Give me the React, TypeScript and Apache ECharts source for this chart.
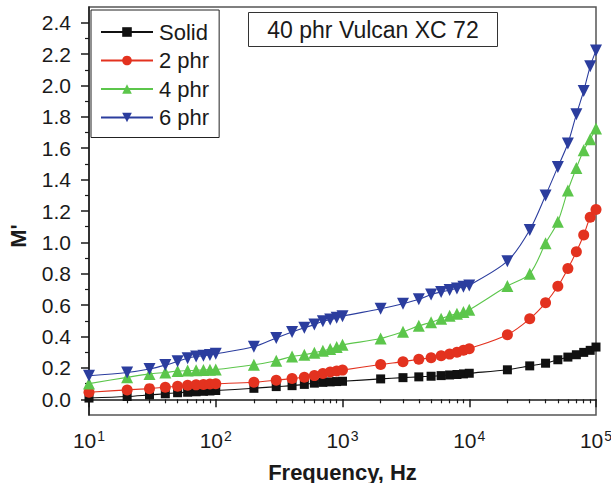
import React, { useEffect, useRef } from "react";
import * as echarts from "echarts";

const freqs = [
  10, 20, 30, 40, 50, 60, 70, 80, 90, 100,
  200, 300, 400, 500, 600, 700, 800, 900, 1000,
  2000, 3000, 4000, 5000, 6000, 7000, 8000, 9000, 10000,
  20000, 30000, 40000, 50000, 60000, 70000, 80000, 90000, 100000,
];

const solid = [
  0.008, 0.018, 0.028, 0.035, 0.042, 0.045, 0.048, 0.051, 0.053, 0.056,
  0.070, 0.081, 0.087, 0.095, 0.103, 0.108, 0.111, 0.113, 0.115,
  0.130, 0.138, 0.143, 0.147, 0.151, 0.155, 0.158, 0.162, 0.166,
  0.188, 0.213, 0.230, 0.252, 0.269, 0.284, 0.299, 0.312, 0.333,
];

const phr2 = [
  0.045, 0.060, 0.068, 0.077, 0.083, 0.089, 0.092, 0.095, 0.097, 0.099,
  0.109, 0.122, 0.132, 0.141, 0.151, 0.164, 0.174, 0.181, 0.186,
  0.222, 0.240, 0.255, 0.265, 0.277, 0.288, 0.300, 0.312, 0.322,
  0.412, 0.513, 0.615, 0.720, 0.833, 0.940, 1.047, 1.160, 1.209,
];

const phr4 = [
  0.100, 0.140, 0.162, 0.171, 0.180, 0.183, 0.185, 0.187, 0.189, 0.190,
  0.220, 0.246, 0.273, 0.284, 0.297, 0.309, 0.320, 0.333, 0.347,
  0.387, 0.430, 0.468, 0.491, 0.514, 0.533, 0.546, 0.557, 0.570,
  0.722, 0.800, 0.994, 1.132, 1.331, 1.474, 1.587, 1.658, 1.726,
];

const phr6 = [
  0.150, 0.171, 0.193, 0.218, 0.242, 0.262, 0.273, 0.278, 0.283, 0.290,
  0.335, 0.391, 0.429, 0.456, 0.476, 0.497, 0.508, 0.519, 0.530,
  0.577, 0.609, 0.637, 0.668, 0.684, 0.697, 0.706, 0.717, 0.726,
  0.880, 1.079, 1.299, 1.481, 1.630, 1.816, 1.965, 2.122, 2.222,
];

const seriesNames = ["Solid", "2 phr", "4 phr", "6 phr"];
const yTickValues = [0, 0.2, 0.4, 0.6, 0.8, 1.0, 1.2, 1.4, 1.6, 1.8, 2.0, 2.2, 2.4];
const yMinorTickValues = [0.1, 0.3, 0.5, 0.7, 0.9, 1.1, 1.3, 1.5, 1.7, 1.9, 2.1, 2.3];
const xDecadeExponents = [1, 2, 3, 4];
const xMinorFactors = [2, 3, 4, 5, 6, 7, 8, 9];
const boxLabel = "40 phr Vulcan XC 72";

const FONT = '"Liberation Sans", Arial, Helvetica, sans-serif';
const AXIS_COLOR = "#1a1a1a";

export default function App() {
  const ref = useRef<HTMLDivElement>(null);

  useEffect(() => {
    if (!ref.current) return;
    const chart = echarts.init(ref.current, null, { renderer: "svg" });

    const minorX: number[] = [];
    xDecadeExponents.forEach((e) => {
      xMinorFactors.forEach((f) => minorX.push(e + Math.log10(f)));
    });

    const pair = (ys: number[]) => freqs.map((f, i) => [f, ys[i]]);

    const mk = (
      name: string,
      ys: number[],
      color: string,
      symbol: string,
      size: number,
      rotate = 0
    ) => ({
      name,
      type: "line",
      data: pair(ys),
      xAxisIndex: 0,
      yAxisIndex: 0,
      smooth: 0.3,
      symbol,
      symbolSize: size,
      symbolRotate: rotate,
      showSymbol: true,
      lineStyle: { color, width: 1.1 },
      itemStyle: { color },
      emphasis: { disabled: true },
      z: 3,
    });

    const option: any = {
      animation: false,
      backgroundColor: "#ffffff",
      grid: {
        left: 89,
        right: 15,
        top: 7,
        bottom: 68,
        containLabel: false,
        outerBoundsMode: "none",
        show: true,
        borderColor: "#555555",
        borderWidth: 1.5,
        backgroundColor: "transparent",
      },
      legend: {
        show: true,
        orient: "vertical",
        left: 91,
        top: 10,
        padding: [11, 10, 9, 9],
        itemWidth: 52,
        itemHeight: 12,
        itemGap: 6.5,
        borderColor: "#222222",
        borderWidth: 1,
        backgroundColor: "#ffffff",
        data: seriesNames,
        textStyle: {
          fontFamily: FONT,
          fontSize: 22,
          lineHeight: 22,
          color: "#1a1a1a",
          padding: [0, 0, 0, 1],
        },
        selectedMode: false,
      },
      xAxis: [
        {
          type: "log",
          logBase: 10,
          min: 10,
          max: 100000,
          position: "bottom",
          axisLine: { show: true, lineStyle: { color: AXIS_COLOR, width: 1.5 } },
          axisTick: { show: true, inside: false, length: 8, lineStyle: { color: AXIS_COLOR, width: 1.5 } },
          splitLine: { show: false },
          minorTick: { show: false },
          axisLabel: {
            margin: 14,
            formatter: (v: number) => "{b|10}{s|" + Math.round(Math.log10(v)) + "}",
            rich: {
              b: { fontFamily: FONT, fontSize: 21, lineHeight: 22, color: AXIS_COLOR, verticalAlign: "bottom" },
              s: { fontFamily: FONT, fontSize: 14, lineHeight: 14, color: AXIS_COLOR, verticalAlign: "top", padding: [0, 0, 0, 1] },
            },
          },
          name: "Frequency, Hz",
          nameLocation: "middle",
          nameGap: 46,
          nameTextStyle: { fontFamily: FONT, fontSize: 22, fontWeight: "bold", color: AXIS_COLOR },
        },
        {
          type: "value",
          min: 1,
          max: 5,
          position: "bottom",
          axisLine: { show: false },
          axisTick: { show: true, inside: false, length: 4, customValues: minorX, lineStyle: { color: AXIS_COLOR, width: 1.2 } },
          axisLabel: { show: false },
          splitLine: { show: false },
        },
      ],
      yAxis: [
        {
          type: "value",
          min: -0.1,
          max: 2.5,
          position: "left",
          axisLine: { show: true, lineStyle: { color: AXIS_COLOR, width: 1.5 } },
          axisTick: { show: true, inside: false, length: 8, customValues: yTickValues, lineStyle: { color: AXIS_COLOR, width: 1.5 } },
          splitLine: { show: false },
          axisLabel: {
            customValues: yTickValues,
            margin: 18,
            formatter: (v: number) => v.toFixed(1),
            fontFamily: FONT,
            fontSize: 21,
            color: AXIS_COLOR,
          },
        },
        {
          type: "value",
          min: -0.1,
          max: 2.5,
          position: "left",
          axisLine: { show: false },
          axisTick: { show: true, inside: false, length: 4, customValues: yMinorTickValues, lineStyle: { color: AXIS_COLOR, width: 1.2 } },
          axisLabel: { show: false },
          splitLine: { show: false },
        },
      ],
      series: [
        mk(seriesNames[0], solid, "#111111", "rect", 9),
        mk(seriesNames[1], phr2, "#e3321f", "circle", 11),
        mk(seriesNames[2], phr4, "#5cc64b", "triangle", 12),
        mk(seriesNames[3], phr6, "#2b3d9e", "triangle", 12, 180),
      ],
      graphic: [
        {
          type: "rect",
          shape: { x: 248.5, y: 12.5, width: 249, height: 34 },
          style: { fill: "#ffffff", stroke: "#333333", lineWidth: 1 },
          z: 10,
        },
        {
          type: "text",
          x: 373,
          y: 30,
          style: {
            text: boxLabel,
            font: `23px ${FONT}`,
            fill: "#1a1a1a",
            align: "center",
            verticalAlign: "middle",
          },
          z: 11,
        },
        {
          type: "text",
          x: 18,
          y: 236,
          rotation: Math.PI / 2,
          style: {
            text: "M'",
            font: `bold 22px ${FONT}`,
            fill: AXIS_COLOR,
            align: "center",
            verticalAlign: "middle",
          },
          z: 11,
        },
      ],
    };

    chart.setOption(option);
    return () => chart.dispose();
  }, []);

  return <div ref={ref} style={{ width: 611, height: 483, position: "absolute", left: 0, top: 0 }} />;
}
